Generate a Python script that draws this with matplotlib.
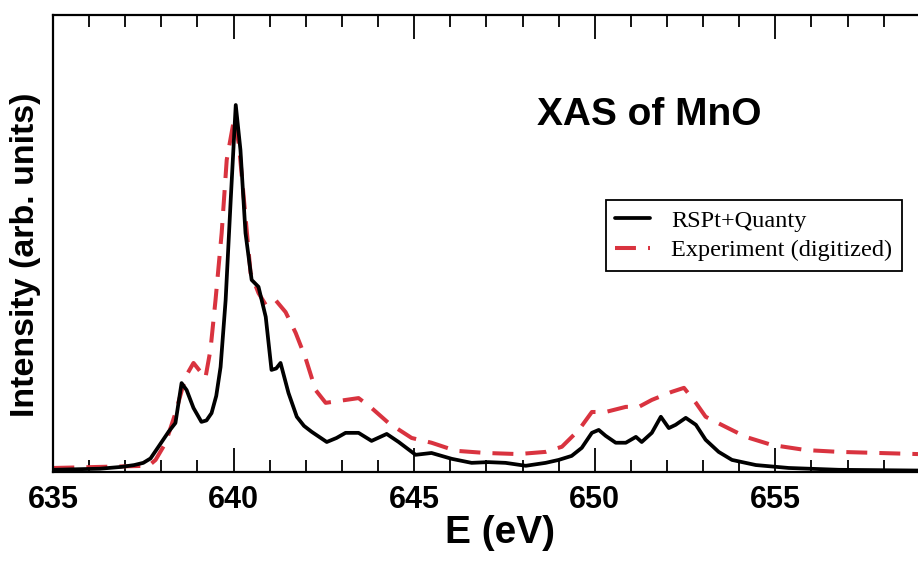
import matplotlib
matplotlib.use("Agg")
import matplotlib.pyplot as plt
from matplotlib.ticker import MultipleLocator

# Calculated spectrum (RSPt+Quanty)
calc_energy = [635.01, 636.30, 636.90, 637.25, 637.50, 637.70, 637.92, 638.20, 638.39,
               638.56, 638.70, 638.89, 639.11, 639.25, 639.39, 639.52, 639.64, 639.78,
               639.92, 640.06, 640.19, 640.33, 640.50, 640.69, 640.89, 641.05, 641.18,
               641.30, 641.52, 641.75, 641.95, 642.16, 642.58, 642.85, 643.10, 643.46,
               643.82, 644.24, 644.57, 645.04, 645.48, 646.04, 646.59, 647.05, 647.53,
               648.09, 648.64, 649.00, 649.36, 649.64, 649.92, 650.11, 650.30, 650.58,
               650.86, 651.14, 651.30, 651.58, 651.83, 652.05, 652.24, 652.52, 652.80,
               653.07, 653.43, 653.80, 654.46, 655.37, 656.76, 658.95]
calc_intensity = [0.003, 0.006, 0.011, 0.016, 0.022, 0.034, 0.066, 0.107, 0.131,
                  0.240, 0.221, 0.172, 0.134, 0.138, 0.158, 0.205, 0.284, 0.467,
                  0.740, 1.000, 0.877, 0.650, 0.522, 0.503, 0.421, 0.276, 0.280,
                  0.295, 0.213, 0.148, 0.123, 0.107, 0.079, 0.090, 0.104, 0.104,
                  0.082, 0.101, 0.079, 0.044, 0.049, 0.033, 0.022, 0.024, 0.022,
                  0.014, 0.022, 0.030, 0.041, 0.063, 0.104, 0.112, 0.096, 0.077,
                  0.077, 0.093, 0.079, 0.104, 0.148, 0.117, 0.126, 0.145, 0.126,
                  0.085, 0.052, 0.030, 0.016, 0.008, 0.003, 0.001]

exp_energy = [635.01, 637.65, 637.84, 638.12, 638.39, 638.67, 638.89, 639.22, 639.36,
              639.50, 639.67, 639.81, 640.02, 640.15, 640.33, 640.47, 640.69, 640.89,
              641.16, 641.44, 641.72, 641.99, 642.27, 642.55, 643.46, 643.82, 644.29,
              644.93, 645.48, 646.15, 646.98, 647.89, 648.64, 649.09, 649.56, 649.92,
              650.30, 650.86, 651.22, 651.58, 652.13, 652.47, 652.80, 653.07, 653.63,
              654.18, 654.90, 655.84, 656.76, 658.95]
exp_intensity = [0.008, 0.014, 0.030, 0.077, 0.158, 0.257, 0.295, 0.254, 0.331,
                 0.467, 0.650, 0.850, 0.965, 0.890, 0.694, 0.541, 0.486, 0.454,
                 0.467, 0.434, 0.377, 0.309, 0.221, 0.186, 0.199, 0.172, 0.131,
                 0.090, 0.077, 0.055, 0.049, 0.046, 0.052, 0.066, 0.112, 0.161,
                 0.161, 0.175, 0.175, 0.194, 0.216, 0.227, 0.186, 0.148, 0.120,
                 0.093, 0.071, 0.057, 0.052, 0.046]

series_labels = ["RSPt+Quanty", "Experiment (digitized)"]
x_ticks = [635, 640, 645, 650, 655]

sans = "Liberation Sans"
serif = "Liberation Serif"

fig = plt.figure(figsize=(9.18, 5.62), dpi=100)
ax = fig.add_axes([53 / 918, 90 / 562, 1 - 53 / 918, 457 / 562])

ax.plot(calc_energy, calc_intensity, color="black", lw=2.7,
        solid_joinstyle="round", solid_capstyle="round",
        label=series_labels[0], zorder=3)
ax.plot(exp_energy, exp_intensity, color="#d9333f", lw=2.9,
        linestyle=(0, (5.2, 3.0)), label=series_labels[1], zorder=2)

ax.set_xlim(635, 658.95)
ax.set_ylim(-0.003, 1.246)

ax.xaxis.set_major_locator(MultipleLocator(5))
ax.xaxis.set_minor_locator(MultipleLocator(1))
ax.set_xticks(x_ticks)
ax.set_xticklabels([str(t) for t in x_ticks])
ax.set_yticks([])

ax.tick_params(axis="x", which="both", direction="in", top=True, bottom=True,
               width=1.3, color="black")
ax.tick_params(axis="x", which="major", length=17, pad=9,
               labelsize=22)
ax.tick_params(axis="x", which="minor", length=8.5)
for lab in ax.get_xticklabels():
    lab.set_fontfamily(sans)
    lab.set_fontweight("bold")

for side in ("left", "bottom", "top"):
    ax.spines[side].set_linewidth(1.6)
ax.spines["right"].set_visible(False)

ax.set_xlabel("E (eV)", fontsize=28, fontweight="bold", family=sans)
ax.xaxis.set_label_coords(0.517, -0.095, transform=ax.transAxes)
ax.set_ylabel("Intensity (arb. units)", fontsize=24.5, fontweight="bold",
              family=sans)
ax.yaxis.set_label_coords(-0.014, 0.475, transform=ax.transAxes)

ax.text(651.5, 0.945, "XAS of MnO", fontsize=28, fontweight="bold",
        family=sans, ha="center", va="baseline")

leg = ax.legend(loc="upper right", bbox_to_anchor=(902 / 918, 1 - 200 / 562),
                bbox_transform=fig.transFigure, borderaxespad=0,
                prop={"family": serif, "size": 17.5}, frameon=True,
                fancybox=False, framealpha=1, edgecolor="black",
                handlelength=1.45, handletextpad=0.85, labelspacing=0.3,
                borderpad=0.4)
leg.get_frame().set_linewidth(1.3)

fig.savefig("out.png", dpi=100)
